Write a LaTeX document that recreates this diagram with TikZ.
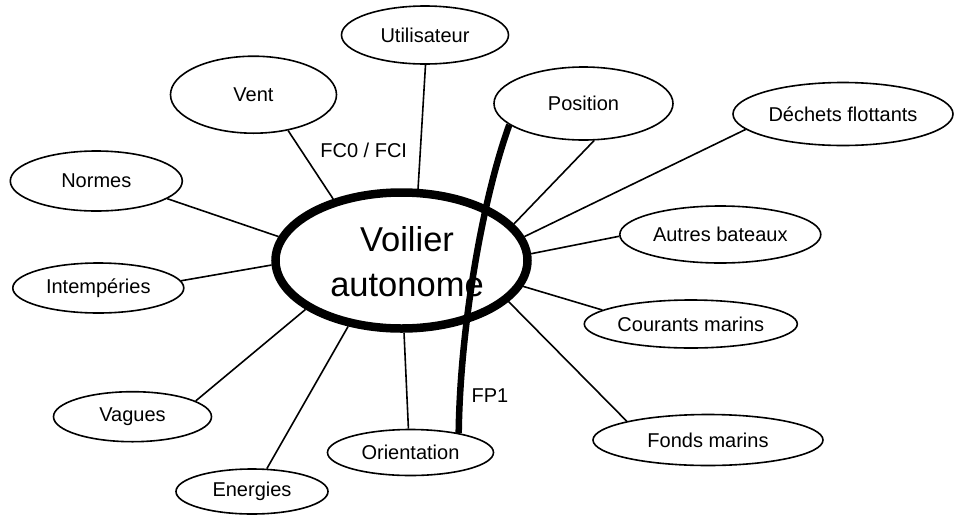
\documentclass[tikz,border=0pt]{standalone}
\usepackage{fontspec}
\setmainfont{Liberation Sans}
\usetikzlibrary{shapes.geometric}

\tikzset{
    bulle/.style={draw, ellipse, line width=1.6pt, inner sep=0pt, font=\fontsize{20}{24}\selectfont},
    lien/.style={line width=1.6pt},
    etiquette/.style={inner sep=0pt, font=\fontsize{20}{24}\selectfont},
}

\begin{document}
\begin{tikzpicture}[x=1pt, y=-1pt]
    \useasboundingbox (0,0) rectangle (954,515);

    % Central ellipse
    \node[draw, ellipse, line width=8.5pt, minimum width=252pt, minimum height=136pt, inner sep=0pt] (voilier) at (401.5,260.5) {};
    \node[align=center, inner sep=0pt, font=\fontsize{34.5}{45}\selectfont] (titre) at (407,262) {Voilier\\autonome};

    % Surrounding elements
    \node[bulle, minimum width=167pt, minimum height=58pt] (utilisateur) at (425,35) {Utilisateur};
    \node[bulle, minimum width=166pt, minimum height=77pt] (vent) at (253.5,94.7) {Vent};
    \node[bulle, minimum width=172pt, minimum height=60pt] (normes) at (96.3,181) {Normes};
    \node[bulle, minimum width=171pt, minimum height=50pt] (intemperies) at (98.3,288) {Intempéries};
    \node[bulle, minimum width=158pt, minimum height=50pt] (vagues) at (132.5,416.7) {Vagues};
    \node[bulle, minimum width=152pt, minimum height=45pt] (energies) at (252,491.5) {Energies};
    \node[bulle, minimum width=166pt, minimum height=46pt] (orientation) at (410.5,452.5) {Orientation};
    \node[bulle, minimum width=230pt, minimum height=51pt] (fonds) at (708,440) {Fonds marins};
    \node[bulle, minimum width=213pt, minimum height=48pt] (courants) at (690.8,324) {Courants marins};
    \node[bulle, minimum width=201pt, minimum height=57pt] (bateaux) at (720.3,234.5) {Autres bateaux};
    \node[bulle, minimum width=220pt, minimum height=63pt] (dechets) at (843,114) {Déchets flottants};
    \node[bulle, minimum width=179pt, minimum height=73pt] (position) at (583.5,103.5) {Position};

    % Links to the boat
    \draw[lien] (utilisateur.-89) -- (voilier.77);
    \draw[lien] (vent.-46) -- (voilier.138);
    \draw[lien] (normes.-14) -- (voilier.169);
    \draw[lien] (intemperies.5) -- (voilier.182);
    \draw[lien] (vagues.14) -- (voilier.207);
    \draw[lien] (energies.57) -- (voilier.231);
    \draw[lien] (orientation.95) -- (voilier.-88);
    \draw[lien] (fonds.167) -- (voilier.-21);
    \draw[lien] (courants.171) -- (voilier.-12);
    \draw[lien] (bateaux.181) -- (voilier.3);
    \draw[lien] (dechets.189) -- (voilier.11);
    \draw[lien] (position.-74) -- (voilier.18);

    % Function labels
    \node[etiquette] (fc) at (363.7,150.5) {FC0 / FCI};
    \node[etiquette] (fp) at (490,396) {FP1};

    % Thick link FP1
    \draw[line width=6.5pt] (position.196) .. controls (482,200) and (460,330) .. (orientation.22);
\end{tikzpicture}
\end{document}
